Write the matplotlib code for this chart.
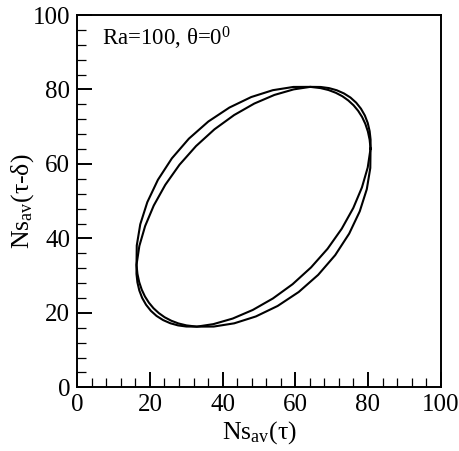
import matplotlib
matplotlib.use("Agg")
import matplotlib.pyplot as plt
from matplotlib.ticker import MultipleLocator

plt.rcParams["font.family"] = ["Liberation Serif", "DejaVu Serif"]
plt.rcParams["mathtext.fontset"] = "custom"
plt.rcParams["mathtext.rm"] = "Liberation Serif"
plt.rcParams["mathtext.it"] = "Liberation Serif:italic"

# first loop: Ns_av(tau) and Ns_av(tau - delta)
loop1_x = [80.70, 80.45, 79.97, 79.27, 78.38, 77.29, 76.03, 74.58, 72.96, 71.14,
           69.14, 66.95, 64.11, 59.45, 53.81, 47.87, 41.87, 36.07, 30.71, 26.03,
           22.18, 19.27, 17.33, 16.37, 16.30, 16.29, 16.55, 17.07, 17.86, 18.93,
           20.25, 21.82, 23.62, 25.60, 27.74, 30.01, 32.89, 37.44, 42.77, 48.29,
           53.84, 59.25, 64.32, 68.88, 72.78, 75.95, 78.33, 79.92, 80.70]
loop1_y = [64.11, 66.50, 68.71, 70.75, 72.60, 74.27, 75.75, 77.05, 78.18, 79.11,
           79.85, 80.37, 80.70, 80.68, 79.81, 77.97, 75.15, 71.40, 66.79, 61.50,
           55.72, 49.73, 43.78, 38.10, 32.89, 30.48, 28.19, 26.01, 24.00, 22.17,
           20.55, 19.17, 18.06, 17.21, 16.63, 16.33, 16.30, 16.97, 18.47, 20.78,
           23.87, 27.70, 32.20, 37.22, 42.61, 48.16, 53.69, 59.03, 64.11]

# second loop
loop2_x = [80.70, 80.71, 80.45, 79.93, 79.14, 78.07, 76.75, 75.18, 73.38, 71.40,
           69.26, 66.99, 64.11, 59.56, 54.23, 48.71, 43.16, 37.75, 32.68, 28.12,
           24.22, 21.05, 18.67, 17.08, 16.30, 16.55, 17.03, 17.73, 18.62, 19.71,
           20.97, 22.42, 24.04, 25.86, 27.86, 30.05, 32.89, 37.55, 43.19, 49.13,
           55.13, 60.93, 66.29, 70.97, 74.82, 77.73, 79.67, 80.63, 80.70]
loop2_y = [64.11, 66.52, 68.81, 70.99, 73.00, 74.83, 76.45, 77.83, 78.94, 79.79,
           80.37, 80.67, 80.70, 80.03, 78.53, 76.22, 73.13, 69.30, 64.80, 59.78,
           54.39, 48.84, 43.31, 37.97, 32.89, 30.50, 28.29, 26.25, 24.40, 22.73,
           21.25, 19.95, 18.82, 17.89, 17.15, 16.63, 16.30, 16.32, 17.19, 19.03,
           21.85, 25.60, 30.21, 35.50, 41.28, 47.27, 53.22, 58.90, 64.11]

x_ticks = [0, 20, 40, 60, 80, 100]
y_ticks = [0, 20, 40, 60, 80, 100]

fig = plt.figure(figsize=(4.6, 4.51), dpi=100)
ax = fig.add_axes([0.168, 0.1412, 0.790, 0.8255])

ax.plot(loop1_x, loop1_y, color="black", lw=1.5, solid_joinstyle="round")
ax.plot(loop2_x, loop2_y, color="black", lw=1.5, solid_joinstyle="round")

ax.set_xlim(0, 100)
ax.set_ylim(0, 100)
ax.set_xticks(x_ticks)
ax.set_yticks(y_ticks)
ax.xaxis.set_minor_locator(MultipleLocator(4))
ax.yaxis.set_minor_locator(MultipleLocator(4))
ax.tick_params(which="major", direction="in", length=11, width=1.4,
               labelsize=18, pad=5)
ax.tick_params(which="minor", direction="in", length=6.5, width=0.9)
for s in ax.spines.values():
    s.set_linewidth(1.4)

ax.set_xlabel(r"Ns$_{\mathrm{av}}$(τ)", fontsize=18.5, labelpad=2)
ax.set_ylabel(r"Ns$_{\mathrm{av}}$(τ-δ)", fontsize=18.5, labelpad=-2)

ax.text(6.7, 91.9, r"Ra=100, θ=0$^{0}$", fontsize=16.5)

fig.savefig("out.png", dpi=100)
